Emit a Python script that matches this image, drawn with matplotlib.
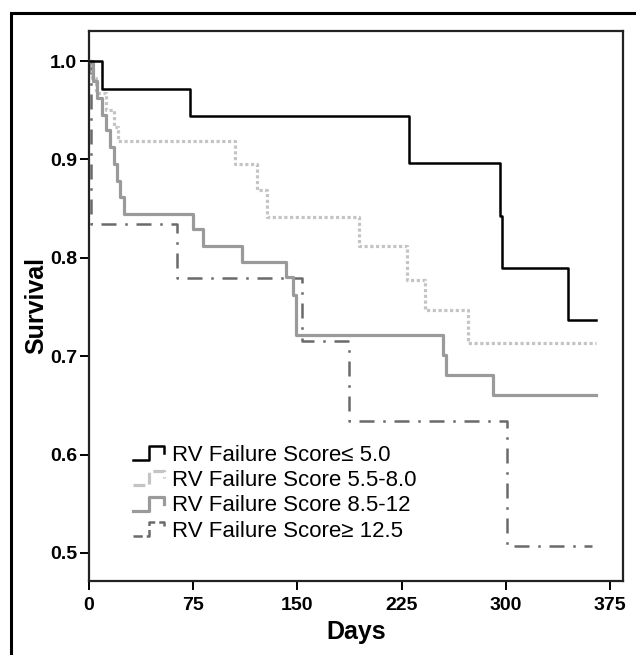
import numpy as np
import matplotlib
matplotlib.use("Agg")
import matplotlib.pyplot as plt
from matplotlib.legend_handler import HandlerBase
from matplotlib.lines import Line2D
from matplotlib.patches import Rectangle

# ==== Data ====
days_le5 = [0, 9, 73, 230, 296, 297, 345, 365]
surv_le5 = [1.0, 0.972, 0.944, 0.896, 0.842, 0.790, 0.737, 0.737]

days_55_80 = [0, 2, 5, 12, 18, 21, 105, 121, 128, 194, 229, 242, 273, 365]
surv_55_80 = [1.0, 0.983, 0.967, 0.950, 0.933, 0.919, 0.895, 0.869, 0.841,
              0.812, 0.777, 0.747, 0.713, 0.713]

days_85_12 = [0, 3, 6, 9, 12, 15, 18, 20, 22, 25, 75, 82, 110, 142, 147, 149,
              255, 257, 291, 365]
surv_85_12 = [1.0, 0.980, 0.962, 0.945, 0.930, 0.913, 0.895, 0.878, 0.862,
              0.845, 0.829, 0.812, 0.796, 0.780, 0.762, 0.722, 0.701, 0.681,
              0.661, 0.661]

days_ge125 = [0, 1.5, 63.5, 153.5, 187, 301, 362]
surv_ge125 = [1.0, 0.834, 0.779, 0.715, 0.634, 0.507, 0.507]

labels = ["RV Failure Score\u2264 5.0", "RV Failure Score 5.5-8.0",
          "RV Failure Score 8.5-12", "RV Failure Score\u2265 12.5"]
x_ticks = [0, 75, 150, 225, 300, 375]
y_ticks = [0.5, 0.6, 0.7, 0.8, 0.9, 1.0]

styles = [
    dict(color="#000000", lw=1.8, linestyle="-", zorder=4),
    dict(color="#c4c4c4", lw=2.3, linestyle=(0, (1, 0.8)), zorder=3),
    dict(color="#9a9a9a", lw=2.3, linestyle="-", zorder=3),
    dict(color="#6a6a6a", lw=1.8, linestyle=(0, (6, 3.5, 1, 3.5)), zorder=2),
]


class StepHandler(HandlerBase):
    # small step-shaped legend key like SPSS draws
    def create_artists(self, legend, orig_handle, xdescent, ydescent,
                       width, height, fontsize, trans):
        x = np.array([0.0, 0.5, 0.5, 0.95, 0.95]) * width - xdescent
        y = np.array([0.05, 0.05, 0.95, 0.95, 0.5]) * height - ydescent
        ln = Line2D(x, y, color=orig_handle.get_color(),
                    lw=orig_handle.get_linewidth(),
                    linestyle=orig_handle.get_linestyle())
        ln.set_transform(trans)
        return [ln]


fig = plt.figure(figsize=(6.36, 6.55), dpi=100)
ax = fig.add_axes([89 / 636, 1 - 581 / 655, 534 / 636, 550 / 655])

# outer frame of the figure (only top/left visible)
fig.patches.append(Rectangle((11 / 636, -0.1), 1.2, 1.1 - 13 / 655,
                             transform=fig.transFigure, fill=False,
                             edgecolor="black", lw=2.2))

curves = [(days_le5, surv_le5), (days_55_80, surv_55_80),
          (days_85_12, surv_85_12), (days_ge125, surv_ge125)]
handles = []
for (d, s), st, lab in zip(curves, styles, labels):
    h, = ax.plot(d, s, drawstyle="steps-post", label=lab, **st)
    handles.append(h)

ax.set_xlim(0, 384.4)
ax.set_ylim(0.4715, 1.0305)
ax.set_xticks(x_ticks)
ax.set_yticks(y_ticks)
ax.set_yticklabels([f"{v:.1f}" for v in y_ticks])

for t in ax.get_xticklabels() + ax.get_yticklabels():
    t.set_family("Liberation Sans")
    t.set_weight("bold")
    t.set_size(14)

ax.tick_params(direction="out", length=6.5, width=1.4, pad=2)
ax.tick_params(axis="x", pad=5)
for sp in ax.spines.values():
    sp.set_linewidth(1.6)
    sp.set_color("#222222")

ax.set_xlabel("Days", family="Liberation Sans", weight="bold", size=18,
              labelpad=4)
ax.set_ylabel("Survival", family="Liberation Sans", weight="bold", size=18,
              labelpad=1)

ax.legend(handles=handles, labels=labels,
          handler_map={Line2D: StepHandler()},
          loc="upper left", bbox_to_anchor=(0.082, 0.248),
          frameon=False, borderpad=0, borderaxespad=0,
          handlelength=1.5, handletextpad=0.25, labelspacing=0.2,
          prop=dict(family="Liberation Sans", size=16))

plt.savefig("out.png", dpi=100)
